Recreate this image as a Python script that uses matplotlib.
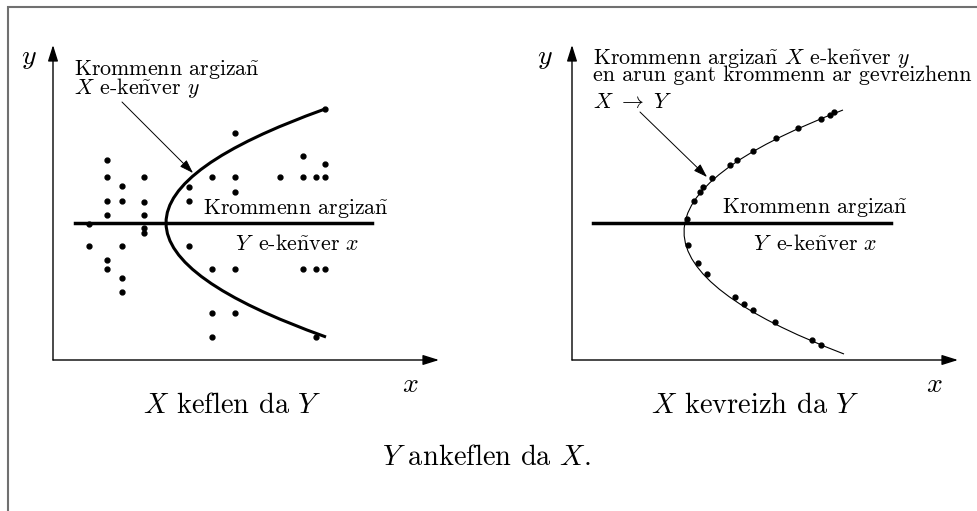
import matplotlib
matplotlib.use("Agg")
import matplotlib.pyplot as plt
from matplotlib.path import Path
from matplotlib.patches import PathPatch

plt.rcParams['mathtext.fontset'] = 'cm'
plt.rcParams['font.family'] = ['cmr10', 'DejaVu Serif']
plt.rcParams['axes.unicode_minus'] = False

W, H = 978, 511

# left panel: scattered observations (X keflen da Y)
left_x = [36, 36, 54, 54, 54, 54, 54, 54, 69, 69, 69, 69, 69,
          91, 91, 91, 91, 91, 136, 136, 136, 159, 159, 159, 159,
          182, 182, 182, 182, 182, 227, 250, 250, 250,
          263, 263, 263, 272, 272, 272, 272]
left_y = [136, 114, 200, 183, 159, 145, 100, 91, 174, 159, 114, 82, 68,
          183, 158, 145, 132, 127, 173, 159, 114, 183, 91, 47, 23,
          227, 183, 168, 91, 47, 183, 204, 183, 91,
          183, 91, 23, 251, 196, 183, 91]
# regression curve X on y: vertex and the two ends
left_vertex = (113, 137)
left_ends = [(272, 251), (273, 23)]
# regression line Y on x
left_line_x = [22, 319]
left_line_y = [137, 137]

# right panel: points lying on the curve (X kevreizh da Y)
right_x = [262, 258, 249, 226, 204, 181, 165, 158, 140, 131, 128, 122, 115,
           116, 126, 135, 163, 172, 181, 203, 240, 249]
right_y = [248, 245, 241, 232, 222, 209, 200, 195, 182, 173, 168, 159, 141,
           115, 97, 86, 63, 56, 50, 38, 20, 15]
right_vertex = (112, 128)
right_ends = [(271, 250), (272, 6)]
right_line_x = [21, 319]
right_line_y = [137, 137]

lbl_line = r"Krommenn argiza$\tilde{\mathrm{n}}$"
lbl_yx = r"$Y\,$ e-ke$\tilde{\mathrm{n}}$ver $x$"
lbl_xy = r"$X$ e-ke$\tilde{\mathrm{n}}$ver $y$"
fs_note = 15.8
fs_big = 20.5


def bezier_curve(vertex, ends):
    # parabola through the vertex, as one quadratic bezier
    ex = (ends[0][0] + ends[1][0]) / 2
    ctrl = (2 * vertex[0] - ex, 2 * vertex[1] - (ends[0][1] + ends[1][1]) / 2)
    return Path([ends[0], ctrl, ends[1]], [Path.MOVETO, Path.CURVE3, Path.CURVE3])


def setup_panel(x0, y0, ylab_x, xlab_x):
    ax = fig.add_axes([x0 / W, (H - y0) / H, 386 / W, 315 / H])
    ax.set_xlim(0, 386)
    ax.set_ylim(0, 315)
    ax.axis('off')
    arrow = dict(arrowstyle='-|>,head_length=0.7,head_width=0.22', color='k', lw=1,
                 mutation_scale=14, shrinkA=0, shrinkB=0)
    ax.annotate('', xy=(386, 0), xytext=(0, 0), arrowprops=arrow, annotation_clip=False)
    ax.annotate('', xy=(0, 315), xytext=(0, 0), arrowprops=arrow, annotation_clip=False)
    ax.text(ylab_x, 302, '$y$', fontsize=20, ha='center', va='center')
    ax.text(xlab_x, -25, '$x$', fontsize=20, ha='center', va='center')
    return ax


def note_arrow(ax, tip, tail):
    ax.annotate('', xy=tip, xytext=tail,
                arrowprops=dict(arrowstyle='-|>,head_length=0.6,head_width=0.2', color='k',
                                lw=0.7, mutation_scale=14, shrinkA=0, shrinkB=0))


fig = plt.figure(figsize=(W / 100, H / 100), dpi=100)

bg = fig.add_axes([0, 0, 1, 1])
bg.set_xlim(0, W)
bg.set_ylim(H, 0)
bg.axis('off')
bg.plot([8, 8, W], [H, 7, 7], color='#707070', lw=1.5, solid_joinstyle='miter')

ax1 = setup_panel(53, 360, -24, 357)
ax1.plot(left_x, left_y, 'o', color='k', ms=3.5, clip_on=False)
ax1.add_patch(PathPatch(bezier_curve(left_vertex, left_ends), fill=False, lw=2.2, color='k'))
ax1.plot(left_line_x, left_line_y, color='k', lw=2.5)
ax1.text(21, 285, lbl_line, fontsize=fs_note)
ax1.text(21, 266, lbl_xy, fontsize=fs_note)
note_arrow(ax1, (140, 187), (69, 258))
ax1.text(150, 146, lbl_line, fontsize=fs_note)
ax1.text(182, 110, lbl_yx, fontsize=fs_note)

ax2 = setup_panel(572, 360, -27, 362)
ax2.add_patch(PathPatch(bezier_curve(right_vertex, right_ends), fill=False, lw=0.8, color='k'))
ax2.plot(right_x, right_y, 'o', color='k', ms=3.5, clip_on=False)
ax2.plot(right_line_x, right_line_y, color='k', lw=2.5)
ax2.text(21, 296, r"Krommenn argiza$\tilde{\mathrm{n}}$ $X$ e-ke$\tilde{\mathrm{n}}$ver $y$",
         fontsize=fs_note)
ax2.text(21, 279, "en arun gant krommenn ar gevreizhenn", fontsize=fs_note)
ax2.text(21, 252, r"$X\ \rightarrow\ Y$", fontsize=fs_note)
note_arrow(ax2, (135, 183), (68, 248))
ax2.text(150, 147, lbl_line, fontsize=fs_note)
ax2.text(181, 110, lbl_yx, fontsize=fs_note)

bg.text(232, 413, "$X$ keflen da $Y$", fontsize=fs_big, ha='center', va='baseline')
bg.text(755, 413, "$X$ kevreizh da $Y$", fontsize=fs_big, ha='center', va='baseline')
bg.text(486, 465, "$Y$ ankeflen da $X$.", fontsize=fs_big, ha='center', va='baseline')

fig.savefig("out.png", dpi=100)
